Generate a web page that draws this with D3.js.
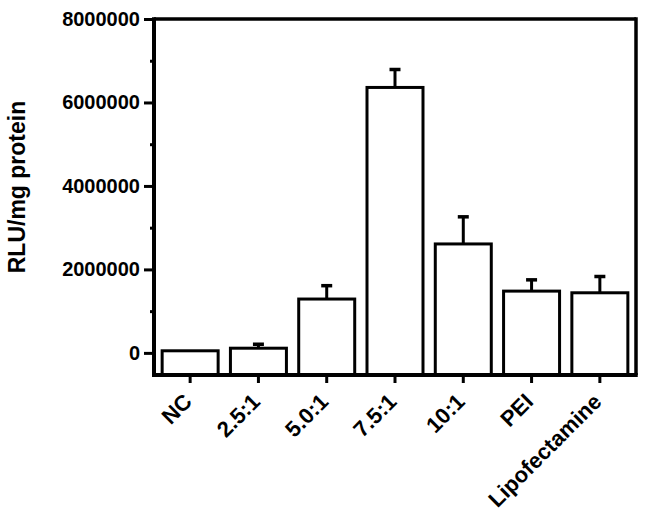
<!DOCTYPE html>
<html>
<head>
<meta charset="utf-8">
<script src="https://cdn.jsdelivr.net/npm/d3@7"></script>
<style>
  body { margin: 0; background: #fff; }
  text { font-family: "Liberation Sans", Arial, sans-serif; font-weight: bold; }
</style>
</head>
<body>
<script>
const categories = ["NC", "2.5:1", "5.0:1", "7.5:1", "10:1", "PEI", "Lipofectamine"];
const means = [50000, 112000, 1290000, 6360000, 2610000, 1480000, 1440000];
const errors = [0, 95000, 320000, 430000, 650000, 270000, 390000];
const yTicks = [0, 2000000, 4000000, 6000000, 8000000];
const yMinorTicks = [1000000, 3000000, 5000000, 7000000];
const yLabel = "RLU/mg protein";

const W = 647, H = 515;
const svg = d3.select("body").append("svg").attr("width", W).attr("height", H);

const plotLeft = 154, plotRight = 636, plotTop = 19, plotBottom = 375;

const x = d3.scaleBand().domain(categories).range([156, 634]).paddingInner(0.18).paddingOuter(0.09);
const y = d3.scaleLinear().domain([-530000, 8000000]).range([plotBottom, plotTop]);

// frame: top and right lines
svg.append("line").attr("x1", plotLeft).attr("x2", plotRight).attr("y1", plotTop).attr("y2", plotTop)
  .attr("stroke", "#000").attr("stroke-width", 3.5);
svg.append("line").attr("x1", plotRight).attr("x2", plotRight).attr("y1", plotTop - 1.75).attr("y2", plotBottom)
  .attr("stroke", "#000").attr("stroke-width", 3.5);

// bars
const g = svg.append("g");
categories.forEach((c, i) => {
  const x0 = x(c), bw = x.bandwidth(), cx = x0 + bw / 2;
  if (errors[i] > 0) {
    g.append("line").attr("x1", cx).attr("x2", cx).attr("y1", y(means[i])).attr("y2", y(means[i] + errors[i]))
      .attr("stroke", "#000").attr("stroke-width", 3);
    g.append("line").attr("x1", cx - 5.5).attr("x2", cx + 5.5)
      .attr("y1", y(means[i] + errors[i])).attr("y2", y(means[i] + errors[i]))
      .attr("stroke", "#000").attr("stroke-width", 3.5);
  }
  g.append("rect").attr("x", x0).attr("width", bw)
    .attr("y", y(means[i])).attr("height", plotBottom - y(means[i]))
    .attr("fill", "#fff").attr("stroke", "#000").attr("stroke-width", 3);
});

// y axis
const yAxis = svg.append("g").attr("transform", `translate(${plotLeft},0)`)
  .call(d3.axisLeft(y).tickValues(yTicks).tickFormat(d3.format("d")).tickSize(10).tickPadding(4));
yAxis.select(".domain").remove();
yAxis.selectAll(".tick line").attr("stroke-width", 3);
yAxis.selectAll(".tick text").attr("font-size", 20).attr("fill", "#000");
svg.append("g").attr("transform", `translate(${plotLeft},0)`)
  .call(d3.axisLeft(y).tickValues(yMinorTicks).tickFormat("").tickSize(4))
  .call(s => s.select(".domain").remove())
  .selectAll(".tick line").attr("stroke-width", 3);
svg.append("line").attr("x1", plotLeft).attr("x2", plotLeft).attr("y1", plotTop - 1.75).attr("y2", plotBottom + 2)
  .attr("stroke", "#000").attr("stroke-width", 4);

// x axis
const xAxis = svg.append("g").attr("transform", `translate(0,${plotBottom})`)
  .call(d3.axisBottom(x).tickSize(8).tickPadding(6));
xAxis.select(".domain").remove();
xAxis.selectAll(".tick line").attr("stroke-width", 3);
xAxis.selectAll(".tick text")
  .attr("font-size", 22).attr("fill", "#000")
  .attr("text-anchor", "end")
  .attr("dy", 0)
  .attr("transform", "translate(3,28) rotate(-45)")
  .attr("x", 0).attr("y", 0);
svg.append("line").attr("x1", plotLeft - 2).attr("x2", plotRight + 1.75).attr("y1", plotBottom).attr("y2", plotBottom)
  .attr("stroke", "#000").attr("stroke-width", 4);

// y label
svg.append("text").attr("transform", `translate(25,187) rotate(-90)`)
  .attr("text-anchor", "middle").attr("font-size", 23).attr("fill", "#000").text(yLabel);
</script>
</body>
</html>
